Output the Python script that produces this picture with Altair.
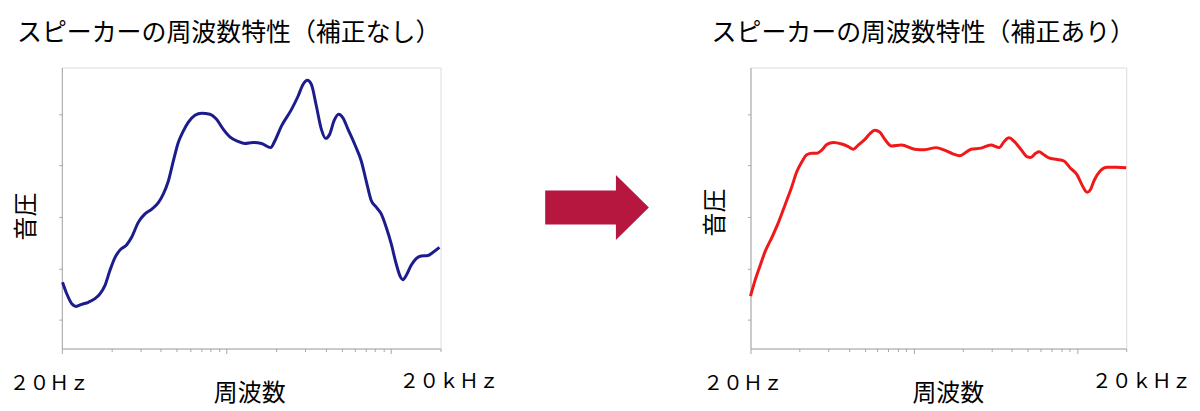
import altair as alt
import pandas as pd

FONT = "Noto Sans CJK JP"
GRAY = "#A8A8A8"

# --- data (Hz, dB-like sound pressure) ---
left_freq = [101, 107, 115, 122, 132, 145, 159, 171, 183, 196, 211, 226, 248, 266, 292, 320,
             351, 386, 414, 444, 476, 510, 547, 586, 644, 707, 794, 871, 956, 1049, 1179,
             1293, 1453, 1633, 1860, 1967, 2159, 2482, 2724, 2921, 3103, 3282, 3519, 3773,
             4009, 4241, 4504, 4807, 5106, 5475, 6009, 6597, 7072, 7585, 8135, 8722, 9353,
             10028, 10752, 11425, 11804, 12365, 13262, 14219, 15251, 16731, 17942, 19695]
left_db = [57.3, 55.1, 53.1, 52.6, 53.0, 53.4, 54.1, 55.1, 56.7, 59.6, 62.2, 63.6, 64.6, 66.1,
           69.0, 70.6, 71.5, 72.8, 74.5, 77.0, 80.9, 84.5, 86.7, 88.4, 89.8, 90.2, 90.0, 89.0,
           87.1, 85.6, 84.7, 84.3, 84.5, 84.3, 83.5, 84.8, 87.7, 90.9, 93.5, 95.8, 96.6, 95.8,
           91.6, 87.1, 85.3, 86.1, 88.7, 90.0, 89.3, 87.1, 84.2, 80.9, 77.0, 73.2, 71.9, 70.6,
           68.0, 64.8, 60.9, 58.3, 57.8, 58.6, 60.6, 61.9, 62.4, 62.5, 63.1, 64.1]

right_freq = [100, 107, 115, 123, 136, 149, 163, 179, 192, 207, 221, 238, 255, 273, 293, 322,
              362, 397, 426, 457, 502, 538, 577, 619, 665, 730, 840, 1012, 1165, 1372, 1542,
              1733, 1903, 2090, 2241, 2579, 2968, 3336, 3578, 3838, 4117, 4521, 4963, 5201,
              5578, 5848, 6270, 6727, 7559, 8301, 9117, 10009, 10737, 11516, 12064, 12764,
              13887, 15248, 17546, 20000]
right_db = [54.6, 57.8, 60.7, 63.3, 66.2, 69.1, 72.4, 75.9, 78.8, 80.8, 82.1, 82.4, 82.4, 83.0,
            84.1, 84.5, 84.2, 83.7, 83.2, 84.0, 85.1, 86.2, 86.9, 86.5, 85.1, 83.8, 84.0, 83.2,
            83.1, 83.5, 83.0, 82.3, 81.9, 82.6, 83.2, 83.4, 84.0, 83.5, 84.7, 85.4, 84.7, 83.2,
            81.7, 81.6, 82.4, 82.7, 82.1, 81.5, 81.2, 80.9, 79.5, 78.2, 76.2, 74.8, 75.3, 77.2,
            79.0, 79.7, 79.7, 79.6]

titles = ["スピーカーの周波数特性（補正なし）", "スピーカーの周波数特性（補正あり）"]
x_title = "周波数"
y_title = "音圧"
x_end_labels = ["２０Ｈｚ", "２０ｋＨｚ"]
x_domain = [100, 20000]
y_domain = [44.4, 99.1]
y_ticks = [50, 60, 70, 80, 90]
x_ticks = [k * 10 ** n for n in (2, 3) for k in range(1, 10)] + [10000, 20000]

ARROW = "M-1,-0.327 L0.365,-0.327 L0.365,-0.625 L1,0 L0.365,0.625 L0.365,0.327 L-1,0.327 Z"


def panel(freq, db, color, title, title_dx, lo_off, hi_off, xt_x, yt_y, width):
    df = pd.DataFrame({"f": freq, "db": db})
    label_expr = (f"datum.value == {x_domain[0]} ? '{x_end_labels[0]}' : "
                  f"(datum.value == {x_domain[1]} ? '{x_end_labels[1]}' : '')")
    x = alt.X(
        "f:Q",
        scale=alt.Scale(type="log", domain=x_domain, nice=False),
        axis=alt.Axis(
            values=x_ticks, labelExpr=label_expr, labelFlush=False, labelOverlap=False,
            labelFont=FONT, labelFontSize=20, labelColor="black", labelPadding=20,
            labelOffset={"condition": {"test": f"datum.value == {x_domain[0]}", "value": lo_off},
                         "value": hi_off},
            tickSize={"condition": {"test": "datum.value == 100 || datum.value == 1000 || datum.value == 10000",
                                    "value": 5}, "value": 3},
            tickColor=GRAY, domainColor=GRAY, grid=False,
            title=x_title, titleFont=FONT, titleFontSize=24, titleFontWeight="normal",
            titleColor="black", titleX=xt_x, titleY=52, titleBaseline="alphabetic",
            titleAlign="center",
        ),
    )
    y = alt.Y(
        "db:Q",
        scale=alt.Scale(domain=y_domain, nice=False, zero=False),
        axis=alt.Axis(
            values=y_ticks, labels=False, tickSize=3, tickColor=GRAY, domainColor=GRAY,
            grid=False, title=y_title, titleFont=FONT, titleFontSize=24,
            titleFontWeight="normal", titleColor="black", titleX=-35, titleY=yt_y,
            titleAngle=270, titleAlign="center", titleBaseline="middle",
        ),
    )
    line = alt.Chart(df).mark_line(color=color, strokeWidth=3, interpolate="monotone").encode(x=x, y=y)
    return line, alt.TitleParams(title, anchor="start", frame="group", dx=title_dx, font=FONT,
                                 fontSize=25, fontWeight="normal", color="black",
                                 baseline="alphabetic", offset=2)


left_line, left_title = panel(left_freq, left_db, "#1C1C8C", titles[0], -45, -13, 8, 188, 149, 380)
right_line, right_title = panel(right_freq, right_db, "#F01818", titles[1], -39, -8, 15, 198, 145, 377)

arrow = alt.Chart(pd.DataFrame({"a": [1]})).mark_point(
    shape=ARROW, size=10816, filled=True, color="#B5173F", opacity=1, strokeWidth=0
).encode(x=alt.value(537), y=alt.value(140.5))

left = alt.layer(left_line, arrow).properties(width=380, height=282, title=left_title)
right = right_line.properties(width=377, height=282, title=right_title)

chart = alt.hconcat(left, right, spacing=311, bounds="flush").properties(
    padding={"left": 0, "top": 11, "right": 0, "bottom": 0}
).configure_view(stroke=GRAY, strokeWidth=1).configure(background="white")

chart.save("out.html", embed_options={"renderer": "svg", "actions": False})
